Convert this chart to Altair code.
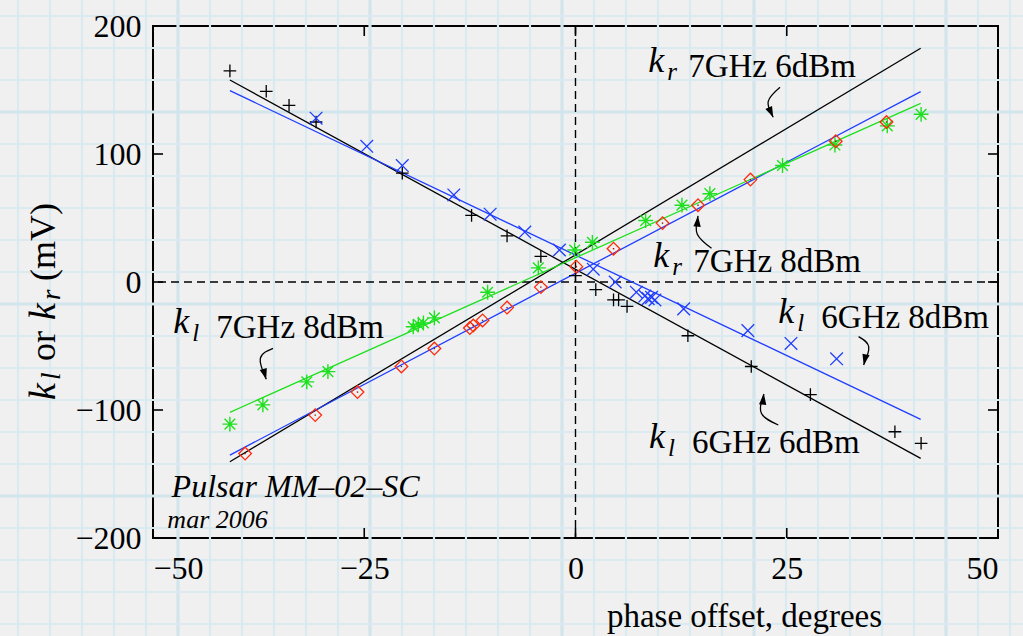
import altair as alt
import pandas as pd

# ---------------------------------------------------------------
# Measured detector outputs k (mV) against phase offset (degrees)
# ---------------------------------------------------------------
plus_x = [-40.9, -36.6, -33.9, -30.7, -20.5, -12.3, -8.1, -4.1, 0.0, 2.4, 4.5,
          5.1, 6.1, 13.3, 20.8, 27.8, 37.8, 40.9]
plus_y = [165, 149, 138, 125, 85, 52, 36, 20, 5, -6, -14, -14, -19, -42, -66,
          -88, -117, -126]

cross_x = [-30.7, -24.7, -20.5, -14.4, -10.1, -6.0, -1.9, 2.1, 4.7, 7.2, 8.2,
           8.6, 9.0, 9.4, 12.8, 20.4, 25.5, 30.9]
cross_y = [128, 106, 91, 68, 53, 39, 25, 10, 0, -8, -11, -13, -12, -14, -21,
           -38, -48, -60]

star_x = [-40.9, -37.0, -31.8, -29.3, -19.2, -18.6, -18.0, -16.7, -10.4, -4.4,
          -0.1, 2.0, 8.3, 12.6, 15.9, 24.5, 30.7, 36.9, 40.9]
star_y = [-111, -96, -78, -70, -35, -33, -32, -28, -8, 11, 25, 31, 48, 60, 69,
          91, 107, 122, 131]

diamond_x = [-39.1, -30.8, -25.8, -20.6, -16.7, -12.5, -12.1, -11.0, -8.1, -4.1,
             0.1, 4.5, 10.3, 14.5, 20.7, 30.8, 36.8]
diamond_y = [-134, -104, -86, -66, -52, -36, -34, -30, -20, -4, 12, 26, 46, 60,
             80, 110, 125]

# Straight-line fits, given by their values at the two ends of the sweep
fit_x = [-40.9, 40.85]
fit_names = ["kl 6GHz 6dBm", "kl 6GHz 8dBm", "kr 7GHz 6dBm", "kr 7GHz 8dBm",
             "kl 7GHz 8dBm"]
fit_colors = ["#000000", "#1f3dff", "#000000", "#1f3dff", "#1ee01e"]
fit_start = [157.8, 149.5, -140.4, -135.2, -101.8]
fit_end = [-137.8, -107.3, 182.6, 148.7, 139.6]

# Label placement (data units: left edge of the "k", text baseline)
lab_x = [8.6, 9.2, -47.6, 24.0, 8.7]
lab_y = [160.4, 8.0, -44.0, -36.2, -133.8]
lab_sub = ["r", "r", "l", "l", "l"]
lab_body = ["7GHz 6dBm", "7GHz 8dBm", "7GHz 8dBm", "6GHz 8dBm", "6GHz 6dBm"]

# Curved pointer arrows: three points each (tail, bend, tip) and head angle
arrow_x = [[24.2, 22.8, 23.4], [16.1, 14.4, 14.5], [-35.8, -37.3, -36.6],
           [33.5, 34.7, 34.1], [24.0, 22.0, 22.3]]
arrow_y = [[152.1, 141.0, 128.7], [26.3, 37.5, 51.6], [-51.8, -59.6, -76.0],
           [-42.7, -50.5, -64.8], [-111.7, -102.6, -87.5]]
arrow_angle = [155, 5, 164, 193, 7]

# Instrument stamp in the lower-left corner
stamp_x = [-47.8, -48.3]
stamp_y = [-168.0, -192.2]
stamp_text = ["Pulsar MM\u201302\u2013SC", "mar 2006"]
stamp_size = [32, 26]

SERIF = "Liberation Serif"
W, H = 845, 512

xs = alt.Scale(domain=[-50, 50], nice=False, zero=False)
ys = alt.Scale(domain=[-200, 200], nice=False, zero=False)
x_axis = alt.Axis(values=[-50, -25, 0, 25, 50], ticks=False, tickSize=0,
                  domain=False, grid=False, labelFont=SERIF, labelFontSize=32,
                  labelColor="black", labelPadding=15, zindex=2,
                  title="phase offset, degrees", titleFont=SERIF,
                  titleFontSize=33, titleFontWeight="normal", titleColor="black",
                  titleX=591, titleY=88, titleAlign="center",
                  titleBaseline="alphabetic", titleAngle=0)
y_axis = alt.Axis(values=[-200, -100, 0, 100, 200], ticks=False, tickSize=0,
                  domain=False, grid=False, labelFont=SERIF, labelFontSize=32,
                  labelColor="black", labelPadding=12, zindex=2, title=None)


def X(field):
    return alt.X(field, type="quantitative", scale=xs, axis=x_axis)


def Y(field):
    return alt.Y(field, type="quantitative", scale=ys, axis=y_axis)


# ---------------- tables ----------------
fits = pd.DataFrame(
    [{"name": n, "col": c, "x": fit_x[0], "y": a} for n, c, a in zip(fit_names, fit_colors, fit_start)]
    + [{"name": n, "col": c, "x": fit_x[1], "y": b} for n, c, b in zip(fit_names, fit_colors, fit_end)]
)
plus = pd.DataFrame({"x": plus_x, "y": plus_y})
cross = pd.DataFrame({"x": cross_x, "y": cross_y})
star = pd.DataFrame({"x": star_x, "y": star_y})
diamond = pd.DataFrame({"x": diamond_x, "y": diamond_y})
labels = pd.DataFrame({"x": lab_x, "y": lab_y, "sub": lab_sub, "body": lab_body})
arrows = pd.DataFrame([
    {"id": i, "ord": j, "x": arrow_x[i][j], "y": arrow_y[i][j]}
    for i in range(len(arrow_x)) for j in range(3)
])
heads = pd.DataFrame({"x": [a[-1] for a in arrow_x], "y": [a[-1] for a in arrow_y],
                      "ang": arrow_angle})
stamps = pd.DataFrame({"x": stamp_x, "y": stamp_y, "t": stamp_text, "s": stamp_size})

# ---------------- graph-paper backdrop ----------------
paper_v = pd.DataFrame({"gx": list(range(18, 1024, 32))})
paper_v["bold"] = [(v - 178) % 192 == 0 for v in paper_v["gx"]]
paper_h = pd.DataFrame({"gy": list(range(16, 637, 32))})
paper_h["bold"] = [(v - 112) % 192 == 0 for v in paper_h["gy"]]

px_scale = alt.Scale(domain=[153, 998], nice=False, zero=False)
py_scale = alt.Scale(domain=[26, 538], nice=False, zero=False, reverse=True)
bold_w = alt.condition("datum.bold", alt.value(3.2), alt.value(2.2))
bold_c = alt.condition("datum.bold", alt.value("#d2e5ec"), alt.value("#dbeaf0"))

paper = alt.layer(
    alt.Chart(paper_v).mark_rule().encode(
        x=alt.X("gx:Q", scale=px_scale, axis=None),
        y=alt.value(-26), y2=alt.value(H + 98),
        strokeWidth=bold_w, color=bold_c),
    alt.Chart(paper_h).mark_rule().encode(
        y=alt.Y("gy:Q", scale=py_scale, axis=None),
        x=alt.value(-153), x2=alt.value(W + 25),
        strokeWidth=bold_w, color=bold_c),
)

# ---------------- plot content ----------------
zero_x = alt.Chart(pd.DataFrame({"x": [0]})).mark_rule(
    color="black", strokeWidth=1.4, strokeDash=[8, 5]).encode(x=X("x"))
zero_y = alt.Chart(pd.DataFrame({"y": [0]})).mark_rule(
    color="black", strokeWidth=1.4, strokeDash=[8, 5]).encode(y=Y("y"))

fit_lines = alt.Chart(fits).mark_line(strokeWidth=1.3).encode(
    x=X("x"), y=Y("y"), detail="name:N", color=alt.Color("col:N", scale=None))

PLUS = "M-1,0L1,0M0,-1L0,1"
CROSS = "M-1,-1L1,1M-1,1L1,-1"
STAR = "M-1,0L1,0M0,-1L0,1M-0.72,-0.72L0.72,0.72M-0.72,0.72L0.72,-0.72"
HEAD = "M0,0L0.55,1.6L-0.55,1.6Z"

pts_plus = alt.Chart(plus).mark_point(shape=PLUS, size=160, color="black",
                                      strokeWidth=1.3, opacity=1).encode(x=X("x"), y=Y("y"))
pts_cross = alt.Chart(cross).mark_point(shape=CROSS, size=160, color="#1f3dff",
                                        strokeWidth=1.3, opacity=1).encode(x=X("x"), y=Y("y"))
pts_star = alt.Chart(star).mark_point(shape=STAR, size=220, color="#1ee01e",
                                      strokeWidth=1.4, opacity=1).encode(x=X("x"), y=Y("y"))
pts_diam = alt.Chart(diamond).mark_point(shape="diamond", size=160, color="#ff2a0a",
                                         strokeWidth=1.3, opacity=1).encode(x=X("x"), y=Y("y"))
pts_dot = alt.Chart(diamond).mark_point(shape="square", size=2, filled=True,
                                        color="#a01a0a", opacity=1).encode(x=X("x"), y=Y("y"))

arrow_lines = alt.Chart(arrows).mark_line(color="black", strokeWidth=1.3,
                                          interpolate="natural").encode(
    x=X("x"), y=Y("y"), detail="id:N", order="ord:Q")
arrow_heads = alt.Chart(heads).mark_point(shape=HEAD, size=180, filled=True,
                                          color="black", opacity=1).encode(
    x=X("x"), y=Y("y"), angle=alt.Angle("ang:Q", scale=None))

lab_k = alt.Chart(labels).mark_text(text="k", font=SERIF, fontStyle="italic",
                                    fontSize=36, align="left", baseline="alphabetic",
                                    dy=-5, color="black").encode(x=X("x"), y=Y("y"))
lab_s = alt.Chart(labels).mark_text(font=SERIF, fontStyle="italic", fontSize=25,
                                    align="left", baseline="alphabetic", dx=19, dy=3,
                                    color="black").encode(x=X("x"), y=Y("y"), text="sub:N")
lab_b_r = alt.Chart(labels).transform_filter("datum.sub == 'r'").mark_text(
    font=SERIF, fontSize=33, align="left", baseline="alphabetic", dx=40,
    color="black").encode(x=X("x"), y=Y("y"), text="body:N")
lab_b_l = alt.Chart(labels).transform_filter("datum.sub == 'l'").mark_text(
    font=SERIF, fontSize=33, align="left", baseline="alphabetic", dx=43,
    color="black").encode(x=X("x"), y=Y("y"), text="body:N")

stamp = alt.Chart(stamps).mark_text(
    font=SERIF, fontStyle="italic", align="left", baseline="alphabetic",
    color="black").encode(x=X("x"), y=Y("y"), text="t:N",
                          size=alt.Size("s:Q", scale=None))

# inward tick marks on all four sides
tick_x = pd.DataFrame({"x": [-25, 0, 25]})
tick_y = pd.DataFrame({"y": [-100, 0, 100]})
ticks = alt.layer(
    alt.Chart(tick_x).mark_rule(color="black", strokeWidth=1.6).encode(
        x=X("x"), y=alt.value(H), y2=alt.value(H - 10)),
    alt.Chart(tick_x).mark_rule(color="black", strokeWidth=1.6).encode(
        x=X("x"), y=alt.value(0), y2=alt.value(10)),
    alt.Chart(tick_y).mark_rule(color="black", strokeWidth=1.6).encode(
        y=Y("y"), x=alt.value(0), x2=alt.value(10)),
    alt.Chart(tick_y).mark_rule(color="black", strokeWidth=1.6).encode(
        y=Y("y"), x=alt.value(W), x2=alt.value(W - 10)),
)

# y-axis title "k_l or k_r (mV)", set piece by piece and rotated
one = alt.Data(values=[{}])
ttl = dict(font=SERIF, angle=270, align="left", baseline="alphabetic", color="black")
ytitle = alt.layer(
    alt.Chart(one).mark_text(text="k", fontStyle="italic", fontSize=38, **ttl).encode(
        x=alt.value(-98), y=alt.value(374)),
    alt.Chart(one).mark_text(text="l", fontStyle="italic", fontSize=27, **ttl).encode(
        x=alt.value(-93), y=alt.value(354)),
    alt.Chart(one).mark_text(text="or", fontSize=36, **ttl).encode(
        x=alt.value(-98), y=alt.value(335)),
    alt.Chart(one).mark_text(text="k", fontStyle="italic", fontSize=38, **ttl).encode(
        x=alt.value(-98), y=alt.value(294)),
    alt.Chart(one).mark_text(text="r", fontStyle="italic", fontSize=27, **ttl).encode(
        x=alt.value(-93), y=alt.value(274)),
    alt.Chart(one).mark_text(text="(mV)", fontSize=36, **ttl).encode(
        x=alt.value(-98), y=alt.value(255)),
)

content = alt.layer(
    zero_x, zero_y, fit_lines, pts_plus, pts_cross, pts_star, pts_diam, pts_dot,
    arrow_lines, arrow_heads, lab_k, lab_s, lab_b_r, lab_b_l, stamp, ticks, ytitle,
)

chart = alt.layer(paper, content).resolve_scale(
    x="independent", y="independent"
).properties(
    width=W, height=H,
    autosize=alt.AutoSizeParams(type="none"),
    padding={"left": 153, "top": 26, "right": 25, "bottom": 98},
    background="#f0f0f0",
).configure_view(
    stroke="black", strokeWidth=2, fill=None
)

chart.save("out.html", embed_options={"renderer": "svg", "actions": False})
